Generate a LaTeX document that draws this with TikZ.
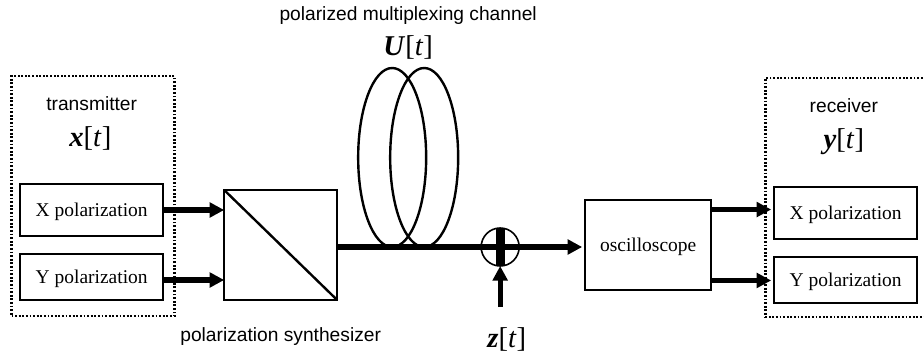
\documentclass[tikz,border=0pt]{standalone}
\usepackage{fontspec}
\setmainfont{Liberation Serif}
\setsansfont{Liberation Sans}
\usetikzlibrary{positioning, arrows.meta, shapes.geometric, calc}

\begin{document}
\begin{tikzpicture}[
    x=0.75pt, y=-0.75pt,
    outer sep=0pt,
    % Node styles
    polbox/.style={
        rectangle,
        draw=black,
        line width=1.8pt,
        minimum width=107.25pt,
        minimum height=34.5pt,
        inner sep=0pt,
        text height=13pt,
        text depth=3.3pt,
        font=\fontsize{14.6}{17}\selectfont
    },
    dotbox/.style={
        rectangle,
        draw=black,
        line width=2pt,
        dash pattern=on 1.4pt off 1.3pt,
        minimum width=122.25pt,
        minimum height=180pt
    },
    coil/.style={
        ellipse,
        draw=black,
        line width=1.8pt,
        minimum width=51pt,
        minimum height=134.25pt,
        inner sep=0pt
    },
    caption/.style={font=\sffamily\fontsize{14.4}{16}\selectfont, inner sep=0pt},
    signal/.style={font=\fontsize{21.5}{24}\selectfont, inner sep=0pt},
    % Arrow styles
    arrow/.style={-{Triangle[length=11pt,width=11pt]}, line width=4pt}
]
\useasboundingbox (0,0) rectangle (924,356);

% -- Transmitter --
\node[dotbox] (tx) at (93,196) {};
\node[polbox, minimum height=39pt, below=81pt of tx.north, xshift=-1pt] (txx) {X polarization};
\node[polbox, below=13.5pt of txx] (tyy) {Y polarization};
\node[caption, below=15.5pt of tx.north, xshift=-1pt] (txlabel) {transmitter};
\node[signal, below=12pt of txlabel, xshift=-1pt] (txsig) {\textbf{\textit{x}}[\textit{t}]};

% -- Synthesizer --
\node[polbox, minimum width=84.75pt, minimum height=82.5pt, below right=4.5pt and 45.75pt of txx.north east] (syn) {};
\node[caption, below=21pt of syn] (synlabel) {polarization synthesizer};

% -- Sum --
\node[circle, draw=black, line width=1.2pt, minimum size=28.5pt, inner sep=0pt, right=108pt of syn.east, yshift=-1.5pt] (sum) {};
\coordinate[below=30.75pt of sum.south] (zin);
\node[signal, below=46pt of sum.south, xshift=5pt] (zsig) {\textbf{\textit{z}}[\textit{t}]};

% -- Channel --
\node[coil, right=41.25pt of syn.east, anchor=south, yshift=-1.5pt] (coila) {};
\node[coil, right=-27pt of coila] (coilb) {};
\node[signal, above=6.5pt of $(coila.north)!.5!(coilb.north)$] (chsig) {\textbf{\textit{U}}[\textit{t}]};
\node[caption, above=8pt of chsig] (chlabel) {polarized multiplexing channel};

% -- Oscilloscope --
\node[polbox, minimum width=94.5pt, minimum height=67.5pt, right=49.5pt of sum.east, yshift=1.5pt] (osc) {oscilloscope};

% -- Receiver --
\node[polbox, minimum height=39pt, right=47.25pt of osc.north east, anchor=north west, yshift=9.75pt] (rxx) {X polarization};
\node[polbox, below=13.5pt of rxx] (ryy) {Y polarization};
\node[dotbox, minimum width=126pt, minimum height=179.25pt, right=-6.75pt of rxx.north west, anchor=north west, yshift=81.75pt] (rx) {};
\node[caption, below=15.5pt of rx.north, xshift=-4pt] (rxlabel) {receiver};
\node[signal, below=12pt of rxlabel] (rxsig) {\textbf{\textit{y}}[\textit{t}]};

% -- Connections --
\draw[arrow] (txx.east) -- (txx.east -| syn.west);
\draw[arrow] ([yshift=-2.25pt]tyy.east) -- ([yshift=-2.25pt]tyy.east -| syn.west);
\draw[line width=1.8pt] (syn.north west) -- (syn.south east);
\draw[line width=4pt] (syn.east |- sum) -- (sum.west);
\draw[line width=4.2pt] (sum.west) -- (sum.east);
\draw[line width=6.75pt] (sum.north) -- (sum.south);
\draw[arrow] (sum.east) -- ([xshift=-2.25pt]osc.west |- sum);
\draw[arrow] (zin) -- (sum.south);
\draw[arrow] ([yshift=26.6pt]osc.east) -- ([xshift=-2.25pt,yshift=26.6pt]osc.east -| rxx.west);
\draw[arrow] ([yshift=-26.6pt]osc.east) -- ([xshift=-2.25pt,yshift=-26.6pt]osc.east -| ryy.west);

\end{tikzpicture}
\end{document}
